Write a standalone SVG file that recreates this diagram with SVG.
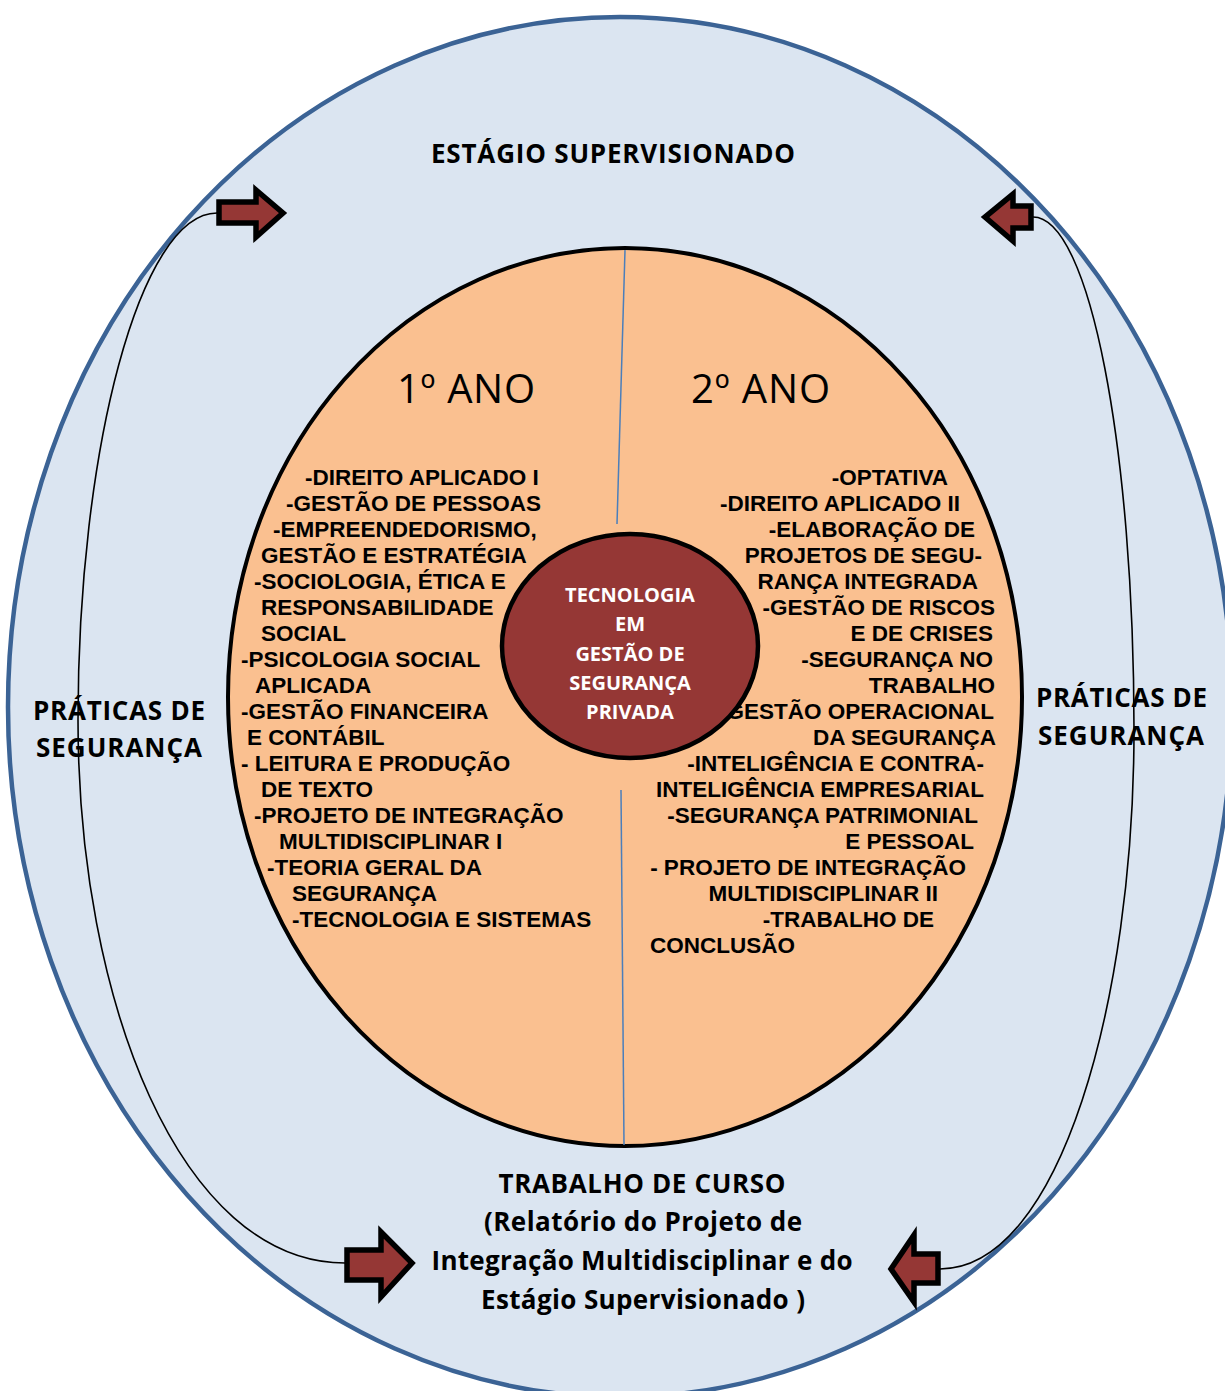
<svg xmlns="http://www.w3.org/2000/svg" width="1225" height="1391" viewBox="0 0 1225 1391">
<style>
.lst{font-family:"Liberation Sans",Arial,sans-serif;font-weight:bold;font-size:22.5px;fill:#000}
.end{text-anchor:end}
.lbl{font-family:"Open Sans","Noto Sans",sans-serif;font-weight:bold;fill:#000}
.ctr{text-anchor:middle}
.core{font-family:"Open Sans","Noto Sans",sans-serif;font-weight:bold;font-size:20px;fill:#fff;text-anchor:middle}
.year{font-family:"Open Sans","Noto Sans",sans-serif;font-size:40px;fill:#000}
.arrow{fill:#953735;stroke:#000;stroke-width:5.5;stroke-linejoin:miter}
.conn{fill:none;stroke:#000;stroke-width:1.6}
.div{stroke:#4A7EBB;stroke-width:1.5}
</style>
<rect width="1225" height="1391" fill="#fff"/>
<g id="outer">
<ellipse cx="620" cy="707" rx="612" ry="690" fill="#DBE5F1" stroke="#3B6395" stroke-width="4.5"/>
</g>
<g id="connectors">
<path class="conn" d="M217,213 C140,213 78,450 78,720 C78,1000 180,1263 345,1263"/>
<path class="conn" d="M1033,217 C1090,217 1134,450 1134,730 C1134,1000 1060,1269 940,1269"/>
</g>
<g id="estagio">
<text class="lbl ctr" x="613" y="163" font-size="26" textLength="364">ESTÁGIO SUPERVISIONADO</text>
</g>
<g id="praticas-left">
<text class="lbl" x="33" y="720" font-size="26" textLength="172">PRÁTICAS DE</text>
<text class="lbl" x="36" y="757" font-size="26" textLength="166">SEGURANÇA</text>
</g>
<g id="praticas-right">
<text class="lbl" x="1036" y="707" font-size="26" textLength="171">PRÁTICAS DE</text>
<text class="lbl" x="1038" y="745" font-size="26" textLength="166">SEGURANÇA</text>
</g>
<g id="trabalho">
<text class="lbl ctr" x="642" y="1193" font-size="26" textLength="287">TRABALHO DE CURSO</text>
<text class="lbl ctr" x="643" y="1231" font-size="26" textLength="318">(Relatório do Projeto de</text>
<text class="lbl ctr" x="642" y="1270" font-size="26" textLength="421">Integração Multidisciplinar e do</text>
<text class="lbl ctr" x="643" y="1309" font-size="26" textLength="324">Estágio Supervisionado )</text>
</g>
<g id="inner">
<ellipse cx="625" cy="697" rx="397" ry="449" fill="#FAC090" stroke="#000" stroke-width="4"/>
<line class="div" x1="625" y1="250" x2="617" y2="524"/>
<line class="div" x1="621" y1="790" x2="624" y2="1145"/>
</g>
<g id="ano1">
<text class="year" x="397" y="403" textLength="138">1º ANO</text>
<text class="lst" x="305" y="485">-DIREITO APLICADO I</text>
<text class="lst" x="286" y="511">-GESTÃO DE PESSOAS</text>
<text class="lst" x="273" y="537">-EMPREENDEDORISMO,</text>
<text class="lst" x="261" y="563">GESTÃO E ESTRATÉGIA</text>
<text class="lst" x="254" y="589">-SOCIOLOGIA, ÉTICA E</text>
<text class="lst" x="261" y="615">RESPONSABILIDADE</text>
<text class="lst" x="261" y="641">SOCIAL</text>
<text class="lst" x="241" y="667">-PSICOLOGIA SOCIAL</text>
<text class="lst" x="255" y="693">APLICADA</text>
<text class="lst" x="241" y="719">-GESTÃO FINANCEIRA</text>
<text class="lst" x="247" y="745">E CONTÁBIL</text>
<text class="lst" x="241" y="771">- LEITURA E PRODUÇÃO</text>
<text class="lst" x="261" y="797">DE TEXTO</text>
<text class="lst" x="254" y="823">-PROJETO DE INTEGRAÇÃO</text>
<text class="lst" x="279" y="849">MULTIDISCIPLINAR I</text>
<text class="lst" x="267" y="875">-TEORIA GERAL DA</text>
<text class="lst" x="292" y="901">SEGURANÇA</text>
<text class="lst" x="292" y="927">-TECNOLOGIA E SISTEMAS</text>
</g>
<g id="ano2">
<text class="year" x="691" y="403" textLength="139">2º ANO</text>
<text class="lst end" x="948" y="485">-OPTATIVA</text>
<text class="lst end" x="960" y="511">-DIREITO APLICADO II</text>
<text class="lst end" x="975" y="537">-ELABORAÇÃO DE</text>
<text class="lst end" x="982" y="563">PROJETOS DE SEGU-</text>
<text class="lst end" x="978" y="589">RANÇA INTEGRADA</text>
<text class="lst end" x="995" y="615">-GESTÃO DE RISCOS</text>
<text class="lst end" x="993" y="641">E DE CRISES</text>
<text class="lst end" x="993" y="667">-SEGURANÇA NO</text>
<text class="lst end" x="995" y="693">TRABALHO</text>
<text class="lst end" x="994" y="719">-GESTÃO OPERACIONAL</text>
<text class="lst end" x="996" y="745">DA SEGURANÇA</text>
<text class="lst end" x="984" y="771">-INTELIGÊNCIA E CONTRA-</text>
<text class="lst end" x="984" y="797">INTELIGÊNCIA EMPRESARIAL</text>
<text class="lst end" x="978" y="823">-SEGURANÇA PATRIMONIAL</text>
<text class="lst end" x="974" y="849">E PESSOAL</text>
<text class="lst end" x="966" y="875">- PROJETO DE INTEGRAÇÃO</text>
<text class="lst end" x="938" y="901">MULTIDISCIPLINAR II</text>
<text class="lst end" x="934" y="927">-TRABALHO DE</text>
<text class="lst" x="650" y="953">CONCLUSÃO</text>
</g>
<g id="core">
<ellipse cx="630" cy="646" rx="128" ry="112" fill="#953735" stroke="#000" stroke-width="4.5"/>
<text class="core" x="630" y="602">TECNOLOGIA</text>
<text class="core" x="630" y="631">EM</text>
<text class="core" x="630" y="661">GESTÃO DE</text>
<text class="core" x="630" y="690">SEGURANÇA</text>
<text class="core" x="630" y="719">PRIVADA</text>
</g>
<g id="arrow-top-left">
<polygon class="arrow" points="219,202 256,202 256,190 283,213 256,237 256,223 219,223"/>
</g>
<g id="arrow-top-right">
<polygon class="arrow" points="1031,206 1013,206 1013,194 985,217 1013,241 1013,228 1031,228"/>
</g>
<g id="arrow-bottom-left">
<polygon class="arrow" points="347,1250 381,1250 381,1232 412,1263 381,1297 381,1280 347,1280"/>
</g>
<g id="arrow-bottom-right">
<polygon class="arrow" points="938,1254 914,1254 914,1235 891,1269 914,1302 914,1283 938,1283"/>
</g>
</svg>
